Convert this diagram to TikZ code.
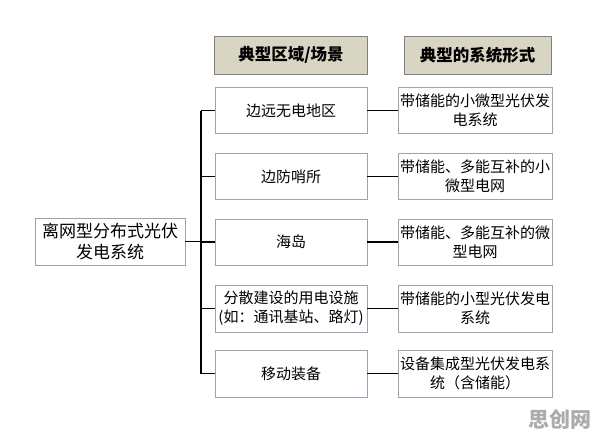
\documentclass[tikz,border=0pt]{standalone}
\usepackage{fontspec}
\setmainfont{Noto Sans CJK SC}
\definecolor{hdrfill}{RGB}{217,213,195}
\definecolor{hdrdraw}{RGB}{128,128,128}
\definecolor{boxdraw}{RGB}{160,160,178}
\definecolor{wmark}{RGB}{172,172,172}
\begin{document}
\begin{tikzpicture}[x=1pt,y=-1pt,
  hdr/.style={draw=hdrdraw,fill=hdrfill,line width=0.8pt,minimum width=152pt,minimum height=38pt,inner sep=0pt,font=\fontsize{16.5}{19}\selectfont\bfseries},
  itembox/.style={draw=boxdraw,fill=white,line width=0.8pt,minimum width=152pt,minimum height=46pt,inner sep=0pt,align=center,font=\fontsize{15}{19}\selectfont},
  conn/.style={draw=black,line width=1.6pt}]
\useasboundingbox (0,0) rectangle (596,437);
\node[hdr,minimum width=153pt] (h1) at (291,55) {典型区域/场景};
\node[hdr,minimum width=147pt] (h2) at (477.5,55) {典型的系统形式};
\node[itembox,minimum width=150pt,minimum height=47pt,font=\fontsize{17}{21}\selectfont] (root) at (110,241.5) {离网型分布式光伏\\发电系统};
\node[itembox] (l1) at (291,110.5) {边远无电地区};
\node[itembox] (l2) at (291,176.5) {边防哨所};
\node[itembox] (l3) at (291,242) {海岛};
\node[itembox,minimum height=47pt] (l4) at (291,308.5) {分散建设的用电设施\\(如：通讯基站、路灯)};
\node[itembox,minimum height=47pt] (l5) at (291,373.5) {移动装备};
\node[itembox,minimum width=154pt] (r1) at (475,110.5) {带储能的小微型光伏发\\电系统};
\node[itembox,minimum width=154pt] (r2) at (475,176.5) {带储能、多能互补的小\\微型电网};
\node[itembox,minimum width=154pt] (r3) at (475,242) {带储能、多能互补的微\\型电网};
\node[itembox,minimum width=154pt,minimum height=47pt] (r4) at (475,308.5) {带储能的小型光伏发电\\系统};
\node[itembox,minimum width=154pt,minimum height=47pt] (r5) at (475,373.5) {设备集成型光伏发电系\\统（含储能）};
\coordinate (t1) at (201,110.5);
\coordinate (t5) at (201,373.5);
\coordinate (tm) at (201,241.5);
\draw[conn] (t1) -- (t5);
\draw[conn] (root.east) -- (tm);
\foreach \i in {1,...,5}{
  \draw[conn] (l\i.west) -- (201,0 |- l\i.west);
  \draw[conn] (l\i.east) -- (r\i.west);
}
\node[text=wmark,font=\fontsize{21}{21}\selectfont\bfseries] (wm) at (560,419) {思创网};
\end{tikzpicture}
\end{document}
